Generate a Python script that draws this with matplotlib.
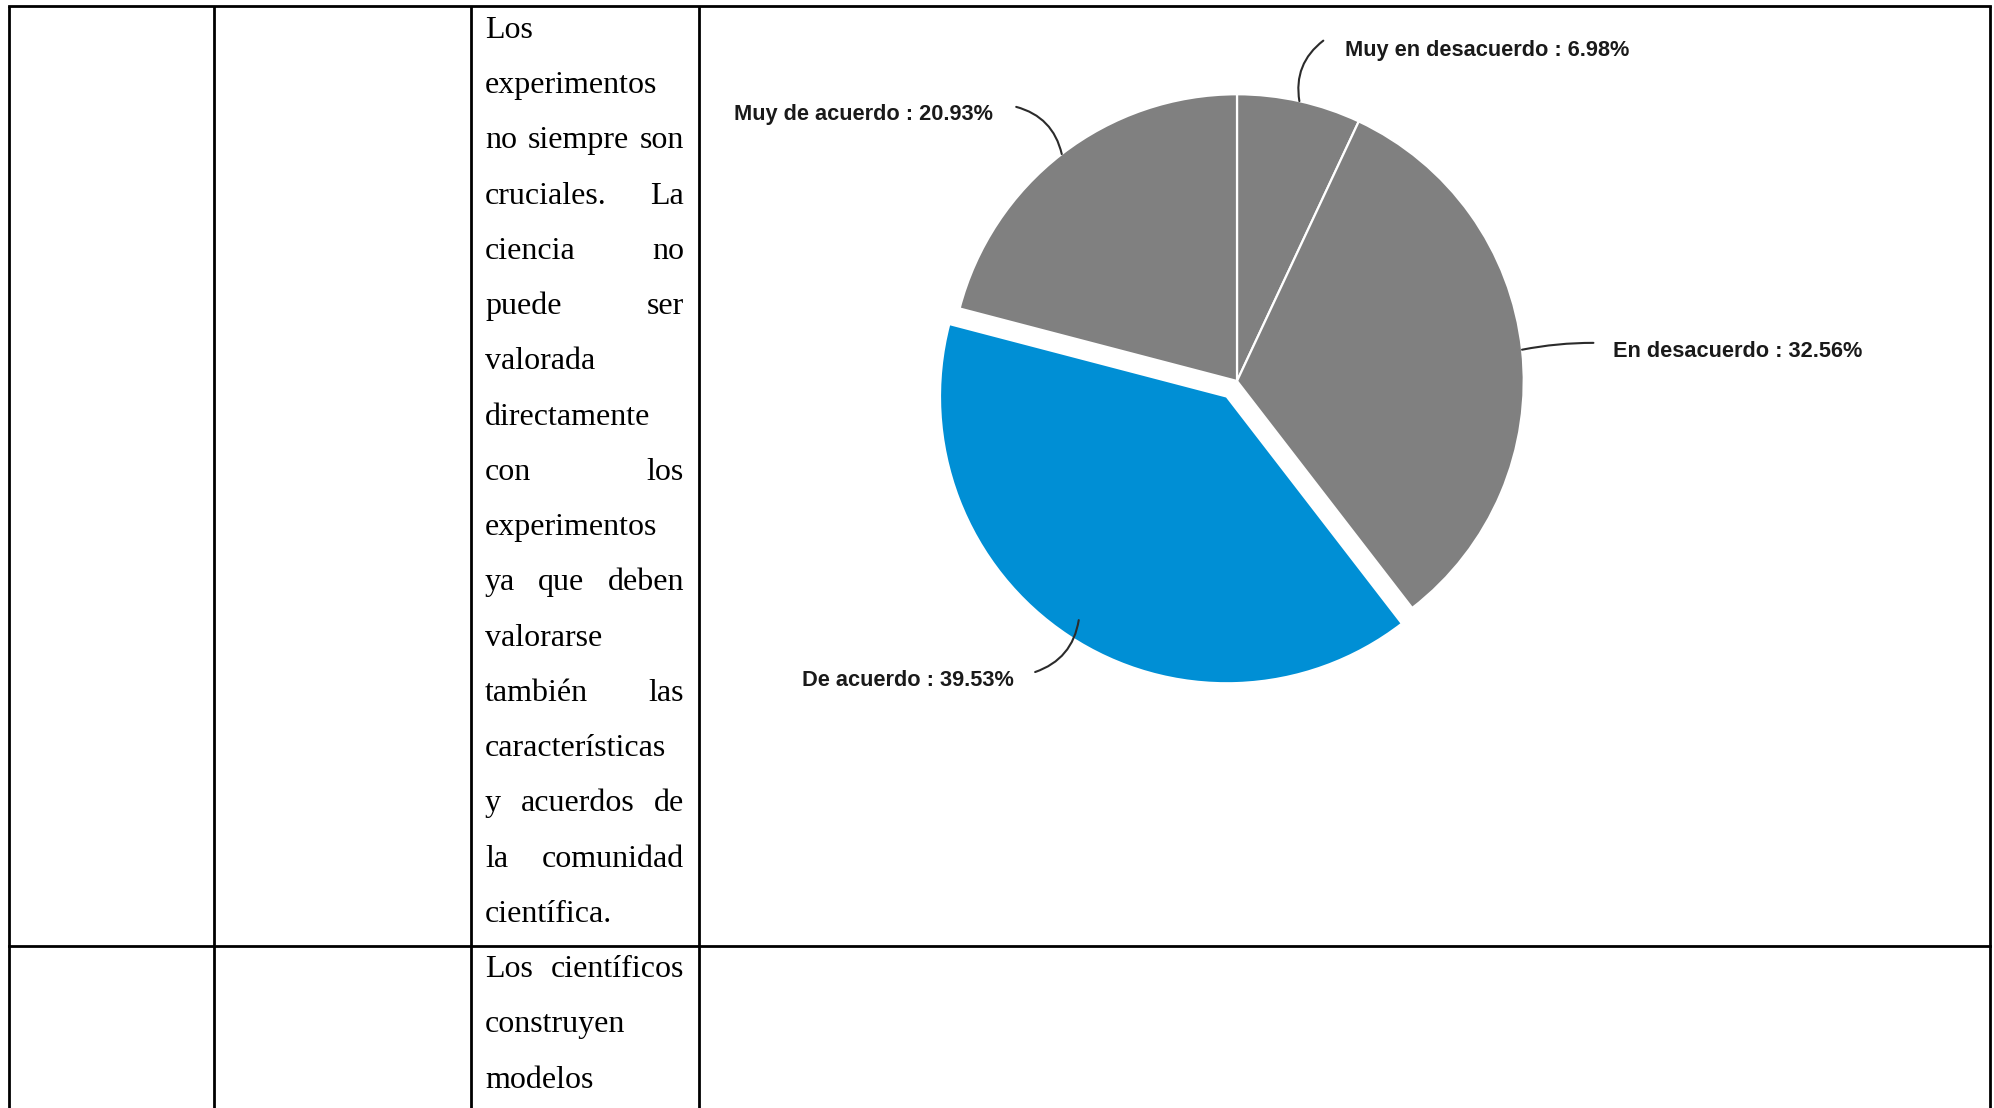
"""Survey item: Spanish text cell on the left, pie of responses on the right."""

import numpy as np
import matplotlib

matplotlib.use("Agg")
import matplotlib.pyplot as plt  # noqa: E402

# data ────────────────────────────────────────────────────────────────────
categories = ["Muy en desacuerdo", "En desacuerdo", "De acuerdo", "Muy de acuerdo"]
shares = [6.98, 32.56, 39.53, 20.93]

row1_lines = [
    "Los",
    "experimentos",
    "no siempre son",
    "cruciales.  La",
    "ciencia no",
    "puede ser",
    "valorada",
    "directamente",
    "con los",
    "experimentos",
    "ya que deben",
    "valorarse",
    "también las",
    "características",
    "y acuerdos de",
    "la comunidad",
    "científica.",
]
row2_lines = ["Los científicos", "construyen", "modelos"]

# style ───────────────────────────────────────────────────────────────────
W, H = 1994, 1108
GRAY = "#808080"
BLUE = "#008fd5"
colors = [GRAY, GRAY, BLUE, GRAY]
explode = [0, 0, 0.065, 0]

# label anchor (pie data units), leader end, alignment, curvature
label_layout = {
    "Muy en desacuerdo": ((0.375, 1.154), (0.301, 1.187), "left", 0.3),
    "En desacuerdo": ((1.313, 0.104), (1.243, 0.133), "left", 0.05),
    "De acuerdo": ((-0.777, -1.045), (-0.704, -1.015), "right", 0.3),
    "Muy de acuerdo": ((-0.851, 0.930), (-0.770, 0.956), "right", -0.3),
}

fig = plt.figure(figsize=(W / 100, H / 100), dpi=100)
fig.patch.set_facecolor("white")

# table grid ──────────────────────────────────────────────────────────────
bg = fig.add_axes([0, 0, 1, 1])
bg.set_xlim(0, W)
bg.set_ylim(H, 0)
bg.axis("off")

col_x = [9, 214, 471, 699, 1990]
for x in col_x:
    bg.plot([x, x], [6, H], color="black", lw=2.0, solid_capstyle="butt")
bg.plot([col_x[0], col_x[-1]], [6, 6], color="black", lw=2.0)
bg.plot([col_x[0], col_x[-1]], [946, 946], color="black", lw=2.0)

# justified serif text in the third column
txt_left, txt_right = 485, 684
serif = dict(family="Liberation Serif", fontsize=23, color="black", va="baseline")
renderer = fig.canvas.get_renderer()


def put_line(line, y):
    words = line.split()
    if len(words) == 1:
        bg.text(txt_left, y, words[0], ha="left", **serif)
        return
    arts = [bg.text(txt_left, y, w, ha="left", **serif) for w in words]
    widths = [a.get_window_extent(renderer).width for a in arts]
    gap = (txt_right - txt_left - sum(widths)) / (len(words) - 1)
    x = txt_left
    for a, w in zip(arts, widths):
        a.set_x(x)
        x += w + gap


y0, step = 38, 55.24
for i, line in enumerate(row1_lines):
    put_line(line, y0 + i * step)
for i, line in enumerate(row2_lines):
    put_line(line, y0 + (len(row1_lines) + i) * step)

# pie ─────────────────────────────────────────────────────────────────────
cx, cy, size = 1237, 381, 800
ax = fig.add_axes([(cx - size / 2) / W, (H - cy - size / 2) / H, size / W, size / H])
wedges, _ = ax.pie(
    shares,
    colors=colors,
    explode=explode,
    startangle=90,
    counterclock=False,
    radius=1.0,
    wedgeprops=dict(edgecolor="white", linewidth=1.6),
)
ax.set_xlim(-1.395, 1.395)
ax.set_ylim(-1.395, 1.395)
ax.set_aspect("equal")
ax.axis("off")

for wedge, name, val in zip(wedges, categories, shares):
    mid = np.deg2rad((wedge.theta1 + wedge.theta2) / 2)
    edge = (np.cos(mid), np.sin(mid))
    (tx, ty), (lx, ly), ha, rad = label_layout[name]
    ax.annotate(
        "",
        xy=edge,
        xytext=(lx, ly),
        arrowprops=dict(
            arrowstyle="-",
            color="#2b2b2b",
            lw=1.5,
            shrinkA=0,
            shrinkB=0,
            connectionstyle=f"arc3,rad={rad}",
        ),
    )
    ax.text(
        tx,
        ty,
        f"{name} : {val:.2f}%",
        ha=ha,
        va="center",
        family="Liberation Sans",
        weight="bold",
        fontsize=15.7,
        color="#1a1a1a",
    )

fig.savefig("out.png", dpi=100, facecolor="white")
